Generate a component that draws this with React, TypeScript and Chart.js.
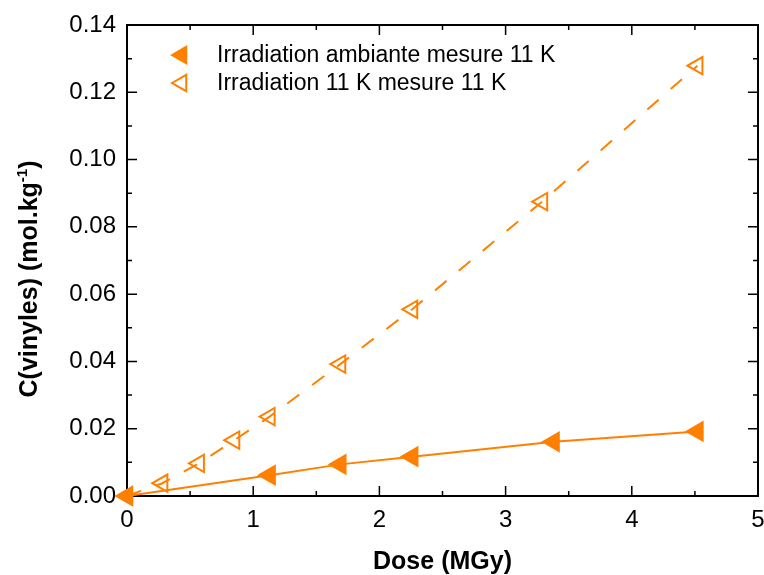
import React, { useEffect, useRef } from 'react';
import { Chart, registerables } from 'chart.js';

Chart.register(...registerables);

// Series: irradiation at ambient temperature, measured at 11 K (filled triangles)
const ambientDose = [0, 1.13, 1.69, 2.26, 3.38, 4.52];
const ambientConc = [0, 0.0062, 0.0094, 0.0117, 0.0161, 0.0192];

// Series: irradiation at 11 K, measured at 11 K (open triangles, dashed)
const coldDose = [0, 0.28, 0.57, 0.85, 1.13, 1.69, 2.26, 3.29, 4.52];
const coldConc = [0, 0.0038, 0.0097, 0.0166, 0.0236, 0.0392, 0.0555, 0.0875, 0.1279];

const seriesLabels = ['Irradiation ambiante mesure 11 K', 'Irradiation 11 K mesure 11 K'];

const xTicks = [0, 1, 2, 3, 4, 5];
const xMinorTicks = [0.5, 1.5, 2.5, 3.5, 4.5];
const yTicks = [0, 0.02, 0.04, 0.06, 0.08, 0.1, 0.12, 0.14];
const yMinorTicks = [0.01, 0.03, 0.05, 0.07, 0.09, 0.11, 0.13];

const xTitle = 'Dose (MGy)';
const yTitleMain = 'C(vinyles) (mol.kg';
const yTitleSup = '-1';
const yTitleEnd = ')';

const ORANGE = '#ff8000';
const FONT = '"Liberation Sans", Arial, sans-serif';

function triangleLeft(ctx: CanvasRenderingContext2D, cx: number, cy: number, r: number) {
  ctx.beginPath();
  for (let i = 0; i < 3; i++) {
    const a = -Math.PI / 2 + (i * 2 * Math.PI) / 3;
    const px = cx + Math.sin(a) * r;
    const py = cy - Math.cos(a) * r;
    if (i === 0) ctx.moveTo(px, py);
    else ctx.lineTo(px, py);
  }
  ctx.closePath();
}

const framePlugin = {
  id: 'frame',
  beforeDatasetsDraw(chart: any) {
    const { ctx, chartArea, scales } = chart;
    const { left, right, top, bottom } = chartArea;
    const x = scales.x;
    const y = scales.y;
    ctx.save();
    ctx.strokeStyle = '#000';
    ctx.lineWidth = 1.5;
    const majorLen = 10;
    const minorLen = 5;
    const drawX = (v: number, len: number) => {
      const p = x.getPixelForValue(v);
      ctx.beginPath();
      ctx.moveTo(p, bottom);
      ctx.lineTo(p, bottom - len);
      ctx.moveTo(p, top);
      ctx.lineTo(p, top + len);
      ctx.stroke();
    };
    const drawY = (v: number, len: number) => {
      const p = y.getPixelForValue(v);
      ctx.beginPath();
      ctx.moveTo(left, p);
      ctx.lineTo(left + len, p);
      ctx.moveTo(right, p);
      ctx.lineTo(right - len, p);
      ctx.stroke();
    };
    xTicks.forEach((v) => drawX(v, majorLen));
    xMinorTicks.forEach((v) => drawX(v, minorLen));
    yTicks.forEach((v) => drawY(v, majorLen));
    yMinorTicks.forEach((v) => drawY(v, minorLen));
    ctx.lineWidth = 2;
    ctx.strokeRect(left, top, right - left, bottom - top);
    ctx.restore();
  },
  afterDraw(chart: any) {
    const { ctx, chartArea } = chart;
    ctx.save();
    // X title
    ctx.fillStyle = '#000';
    ctx.font = `bold 25px ${FONT}`;
    ctx.textAlign = 'center';
    ctx.textBaseline = 'alphabetic';
    ctx.fillText(xTitle, (chartArea.left + chartArea.right) / 2, 569);

    // Y title with superscript
    const mainFont = `bold 25px ${FONT}`;
    const supFont = `bold 15px ${FONT}`;
    ctx.font = mainFont;
    const w1 = ctx.measureText(yTitleMain).width;
    const w3 = ctx.measureText(yTitleEnd).width;
    ctx.font = supFont;
    const w2 = ctx.measureText(yTitleSup).width;
    const total = w1 + w2 + w3;
    ctx.translate(37, 279);
    ctx.rotate(-Math.PI / 2);
    ctx.textAlign = 'left';
    let cx = -total / 2;
    ctx.font = mainFont;
    ctx.fillText(yTitleMain, cx, 0);
    cx += w1;
    ctx.font = supFont;
    ctx.fillText(yTitleSup, cx, -10);
    cx += w2;
    ctx.font = mainFont;
    ctx.fillText(yTitleEnd, cx, 0);
    ctx.restore();

    // Legend
    ctx.save();
    const rows = [
      { y: 55, filled: true },
      { y: 83, filled: false },
    ];
    rows.forEach((row, i) => {
      triangleLeft(ctx, 181.5, row.y, 9.5);
      ctx.lineWidth = 2;
      ctx.strokeStyle = ORANGE;
      if (row.filled) {
        ctx.fillStyle = ORANGE;
        ctx.fill();
      }
      ctx.stroke();
      ctx.fillStyle = '#000';
      ctx.font = `23px ${FONT}`;
      ctx.textAlign = 'left';
      ctx.textBaseline = 'middle';
      ctx.fillText(seriesLabels[i], 217, row.y + 1);
    });
    ctx.restore();
  },
};

export default function App() {
  const canvasRef = useRef<HTMLCanvasElement | null>(null);

  useEffect(() => {
    const canvas = canvasRef.current;
    if (!canvas) return;
    const chart = new Chart(canvas, {
      type: 'scatter',
      data: {
        datasets: [
          {
            label: seriesLabels[0],
            data: ambientDose.map((d, i) => ({ x: d, y: ambientConc[i] })),
            showLine: true,
            borderColor: ORANGE,
            backgroundColor: ORANGE,
            borderWidth: 2,
            pointStyle: 'triangle',
            rotation: -90,
            pointRadius: 10.5,
            pointBorderWidth: 2,
            pointBackgroundColor: ORANGE,
            pointBorderColor: ORANGE,
            clip: false,
          } as any,
          {
            label: seriesLabels[1],
            data: coldDose.map((d, i) => ({ x: d, y: coldConc[i] })),
            showLine: true,
            borderColor: ORANGE,
            backgroundColor: 'rgba(0,0,0,0)',
            borderWidth: 2,
            borderDash: [15, 16],
            pointStyle: 'triangle',
            rotation: -90,
            pointRadius: 10,
            pointBorderWidth: 2,
            pointBackgroundColor: 'rgba(0,0,0,0)',
            pointBorderColor: ORANGE,
            clip: false,
          } as any,
        ],
      },
      options: {
        animation: false,
        responsive: false,
        devicePixelRatio: 1,
        layout: { autoPadding: false, padding: { left: 0, top: 25, right: 6, bottom: 0 } },
        plugins: {
          legend: { display: false },
          tooltip: { enabled: false },
        },
        scales: {
          x: {
            type: 'linear',
            min: 0,
            max: 5,
            grid: { display: false, drawTicks: false },
            border: { display: false },
            ticks: {
              padding: 10,
              color: '#000',
              font: { family: FONT, size: 24 },
              callback: (v: any) => String(v),
            },
            afterBuildTicks: (s: any) => {
              s.ticks = xTicks.map((v) => ({ value: v }));
            },
            afterFit: (s: any) => {
              s.height = 79;
              s.paddingLeft = 0;
              s.paddingRight = 0;
            },
          },
          y: {
            type: 'linear',
            min: 0,
            max: 0.14,
            grid: { display: false, drawTicks: false },
            border: { display: false },
            ticks: {
              padding: 11,
              color: '#000',
              font: { family: FONT, size: 24 },
              callback: (v: any) => Number(v).toFixed(2),
            },
            afterBuildTicks: (s: any) => {
              s.ticks = yTicks.map((v) => ({ value: v }));
            },
            afterFit: (s: any) => {
              s.width = 127;
              s.paddingTop = 0;
              s.paddingBottom = 0;
            },
          },
        },
      } as any,
      plugins: [framePlugin],
    });
    return () => chart.destroy();
  }, []);

  return (
    <div style={{ position: 'absolute', left: 0, top: 0, width: 764, height: 575, background: '#fff' }}>
      <canvas ref={canvasRef} width={764} height={575} style={{ display: 'block' }} />
    </div>
  );
}
